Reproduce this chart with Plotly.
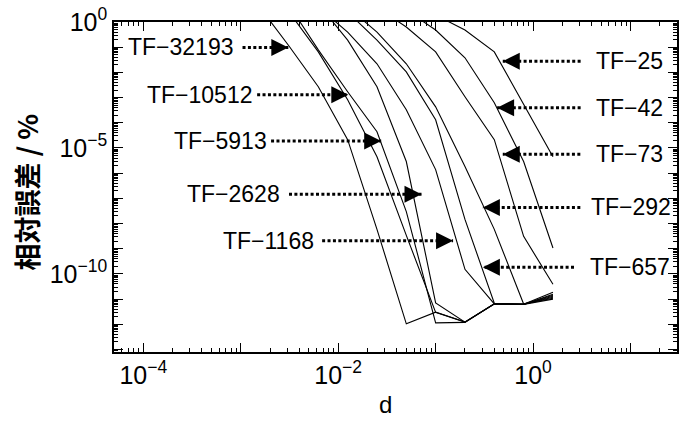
import math
import plotly.graph_objects as go

# ---------------- data ----------------
d = [0.0015625, 0.003125, 0.00625, 0.0125, 0.025, 0.05, 0.1, 0.2, 0.4, 0.8, 1.6]

err_tf32193 = [3.9, 0.112, 2.7e-3, 2.14e-5, 5.9e-9, 1.05e-12, 3.05e-12, 1.23e-12, 6.5e-12, 6.3e-12, 1.2e-11]
err_tf10512 = [None, 2.5, 0.065, 8.2e-4, 4.5e-6, 3.4e-9, 3.0e-12, 1.25e-12, 6.4e-12, 6.2e-12, 1.31e-11]
err_tf5913 = [None, 4.7, 0.078, 1.7e-3, 4.4e-5, 3.0e-8, 1.15e-12, 1.2e-12, 6.6e-12, 6.4e-12, 1.09e-11]
err_tf2628 = [None, None, 5.2, 0.19, 2.7e-3, 2.9e-6, 7.1e-12, 1.22e-12, 6.5e-12, 6.1e-12, 1.57e-11]
err_tf1168 = [None, None, 3.9, 0.40, 0.022, 3.3e-4, 1.39e-6, 1.53e-10, 6.5e-12, 6.3e-12, 1.89e-11]
err_tf657 = [None, None, None, 2.5, 0.19, 0.0105, 1.32e-4, 1.46e-8, 6.9e-12, 6.2e-12, 1.0e-11]
err_tf292 = [None, None, None, 3.9, 0.40, 0.022, 4.3e-4, 1.83e-6, 5.9e-9, 6.4e-12, 1.44e-11]
err_tf73 = [None, None, None, None, 3.9, 0.63, 0.065, 1.08e-3, 2.14e-5, 3.1e-9, 3.9e-11]
err_tf42 = [None, None, None, None, None, 3.0, 0.48, 0.038, 6.2e-4, 2.9e-6, 1.07e-9]
err_tf25 = [None, None, None, None, None, None, 1.9, 0.48, 0.065, 5.7e-4, 4.5e-6]

series = [err_tf32193, err_tf10512, err_tf5913, err_tf2628, err_tf1168,
          err_tf657, err_tf292, err_tf73, err_tf42, err_tf25]

x_tick_vals = [1e-4, 1e-3, 1e-2, 1e-1, 1, 10]
x_tick_text = ["10<sup>−4</sup>", "", "10<sup>−2</sup>", "", "10<sup>0</sup>", ""]
y_tick_vals = [10.0 ** (-k) for k in range(0, 14)]
y_tick_text = ["10<sup>0</sup>" if k == 0 else ("10<sup>−%d</sup>" % k if k in (5, 10) else "")
               for k in range(0, 14)]

# label annotations: text, side, tip log10(d), log10(err), tail log10(d), text log10(d)
labels = [
    ("TF−32193", "left", -2.512, -1.009, -2.982, -3.046),
    ("TF−10512", "left", -1.896, -2.889, -2.832, -2.852),
    ("TF−5913", "left", -1.559, -4.721, -2.689, -2.709),
    ("TF−2628", "left", -1.145, -6.834, -2.505, -2.573),
    ("TF−1168", "left", -0.821, -8.678, -2.165, -2.233),
    ("TF−25", "right", -0.311, -1.555, 0.488, 0.625),
    ("TF−42", "right", -0.369, -3.403, 0.488, 0.625),
    ("TF−73", "right", -0.311, -5.251, 0.485, 0.625),
    ("TF−292", "right", -0.515, -7.361, 0.485, 0.574),
    ("TF−657", "right", -0.515, -9.735, 0.420, 0.563),
]

# ---------------- figure ----------------
fig = go.Figure()
for err in series:
    fig.add_trace(go.Scatter(x=d, y=err, mode="lines",
                             line=dict(color="black", width=1.1),
                             hoverinfo="skip", showlegend=False))

annotations = []
for text, side, tip, le, tail, tx in labels:
    fig.add_trace(go.Scatter(x=[10 ** tail, 10 ** tip], y=[10 ** le, 10 ** le], mode="lines",
                             line=dict(color="black", width=3, dash="3px,2.4px"),
                             hoverinfo="skip", showlegend=False))
    fig.add_trace(go.Scatter(x=[10 ** tip], y=[10 ** le], mode="markers",
                             marker=dict(symbol="arrow-right" if side == "left" else "arrow-left",
                                         size=17, color="black", line=dict(width=0)),
                             hoverinfo="skip", showlegend=False))
    annotations.append(dict(x=tx, y=le, xref="x", yref="y", text=text, showarrow=False,
                            xanchor="right" if side == "left" else "left", yanchor="middle",
                            font=dict(family="Liberation Sans", size=23, color="black")))

annotations.append(dict(x=0.4814, y=-0.160, xref="paper", yref="paper", text="d", showarrow=False,
                        xanchor="center", yanchor="middle",
                        font=dict(family="Liberation Sans", size=24, color="black")))
annotations.append(dict(x=-0.1558, y=0.4845, xref="paper", yref="paper", text="相対誤差 / %",
                        showarrow=False, textangle=-90, xanchor="center", yanchor="middle",
                        font=dict(family="Noto Sans CJK JP", size=27, color="black", weight="bold")))

x_minor = [m * 10.0 ** e for e in range(-5, 2) for m in range(2, 10) if 5e-5 <= m * 10.0 ** e <= 30]
y_minor = [m * 10.0 ** e for e in range(-14, 0) for m in range(2, 10) if 8e-14 <= m * 10.0 ** e <= 1]

axis_common = dict(type="log", tickmode="array", ticks="inside", ticklen=9, tickwidth=1,
                   tickcolor="black", showline=True, linecolor="black", linewidth=1.6,
                   mirror="allticks", showgrid=False, zeroline=False,
                   tickfont=dict(family="Liberation Sans", size=25, color="black"))

fig.update_xaxes(range=[math.log10(5e-5), math.log10(30)], tickvals=x_tick_vals, ticktext=x_tick_text,
                 minor=dict(tickmode="array", tickvals=x_minor, ticks="inside", ticklen=4.5,
                            tickwidth=1, tickcolor="black", showgrid=False),
                 **axis_common)
fig.update_yaxes(range=[math.log10(8e-14), 0], tickvals=y_tick_vals, ticktext=y_tick_text,
                 minor=dict(tickmode="array", tickvals=y_minor, ticks="inside", ticklen=4.5,
                            tickwidth=1, tickcolor="black", showgrid=False),
                 **axis_common)

fig.update_layout(width=683, height=426, margin=dict(l=114, r=4, t=20, b=74, pad=0),
                  paper_bgcolor="white", plot_bgcolor="white", showlegend=False,
                  annotations=annotations)

fig.write_html("out.html")
